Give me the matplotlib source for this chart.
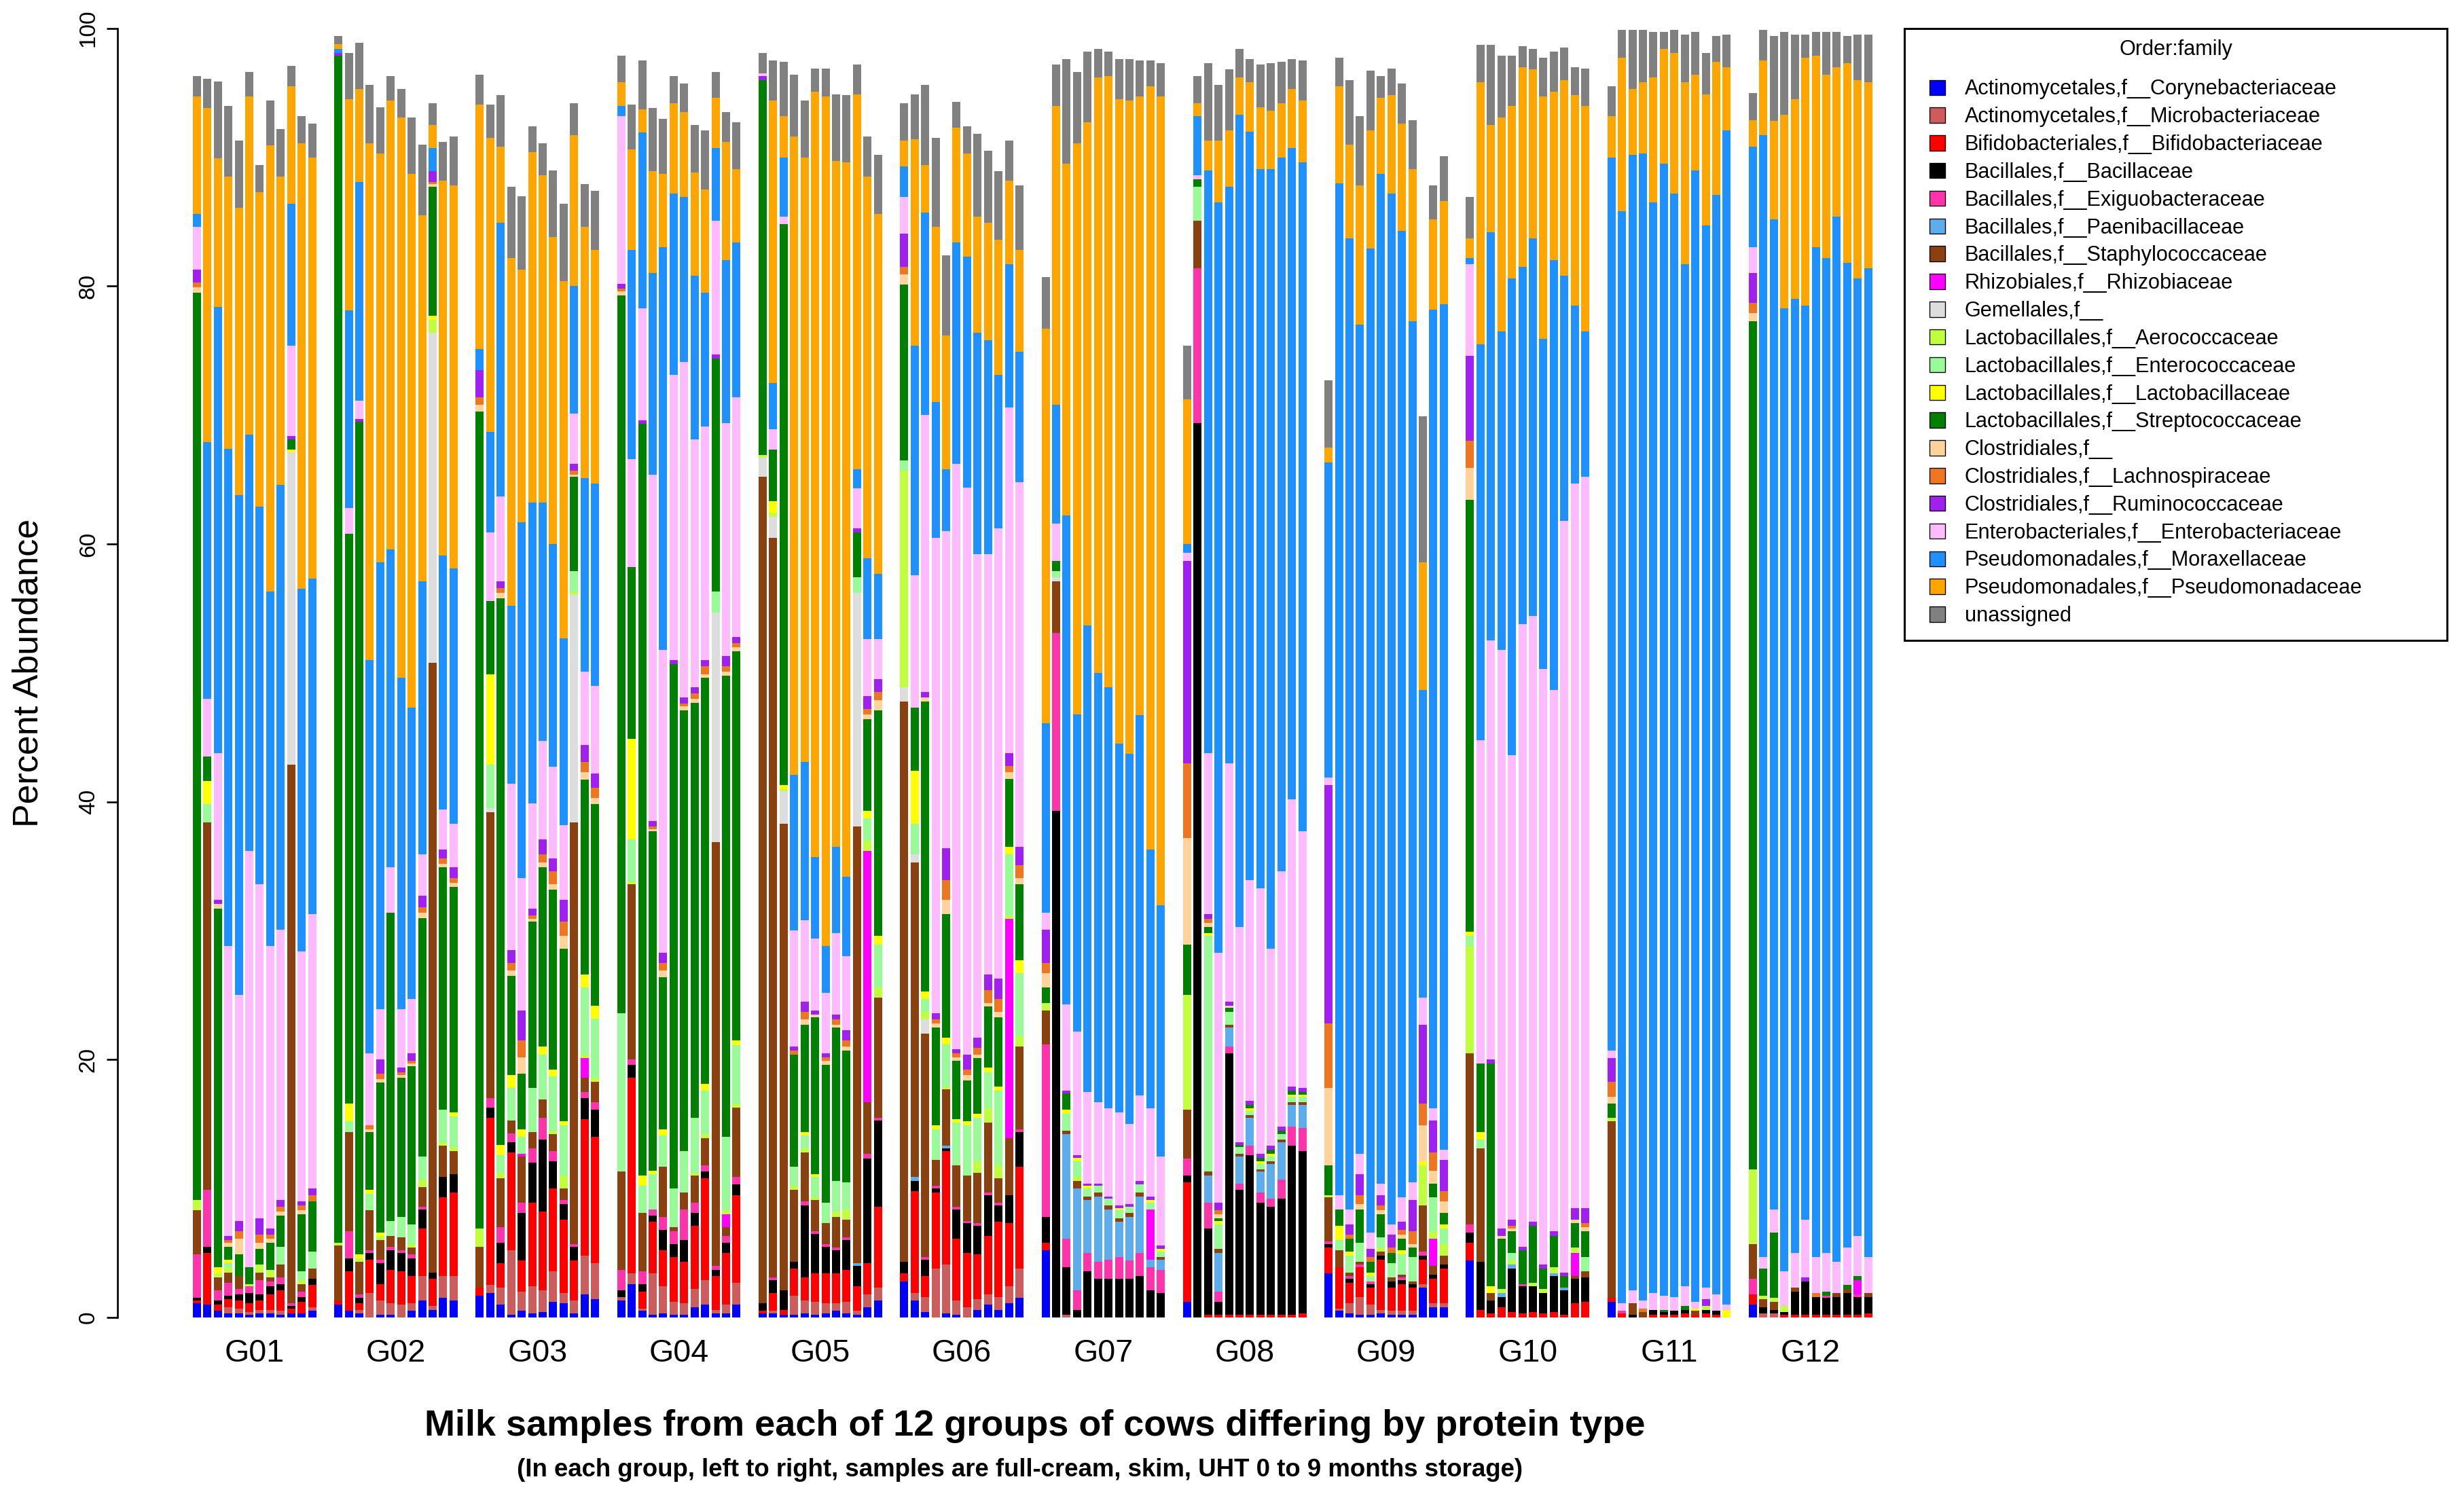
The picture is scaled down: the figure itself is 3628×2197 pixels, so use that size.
import numpy as np
import matplotlib
matplotlib.use("Agg")
import matplotlib.pyplot as plt
from matplotlib.patches import Patch, Rectangle

plt.rcParams["font.family"] = ["Liberation Sans", "DejaVu Sans"]

# Group names (12 samples per group)
groups = ["G01", "G02", "G03", "G04", "G05", "G06",
          "G07", "G08", "G09", "G10", "G11", "G12"]

# Legend entries, bottom of the stack first
orders = [
    "Actinomycetales,f__Corynebacteriaceae",
    "Actinomycetales,f__Microbacteriaceae",
    "Bifidobacteriales,f__Bifidobacteriaceae",
    "Bacillales,f__Bacillaceae",
    "Bacillales,f__Exiguobacteraceae",
    "Bacillales,f__Paenibacillaceae",
    "Bacillales,f__Staphylococcaceae",
    "Rhizobiales,f__Rhizobiaceae",
    "Gemellales,f__",
    "Lactobacillales,f__Aerococcaceae",
    "Lactobacillales,f__Enterococcaceae",
    "Lactobacillales,f__Lactobacillaceae",
    "Lactobacillales,f__Streptococcaceae",
    "Clostridiales,f__",
    "Clostridiales,f__Lachnospiraceae",
    "Clostridiales,f__Ruminococcaceae",
    "Enterobacteriales,f__Enterobacteriaceae",
    "Pseudomonadales,f__Moraxellaceae",
    "Pseudomonadales,f__Pseudomonadaceae",
    "unassigned",
]

colours = ["#0000FF", "#CD5C5C", "#FF0000", "#000000", "#FF33AA",
           "#5DADEC", "#8B4010", "#FF00FF", "#DDDDDD", "#C0FF3E",
           "#98FB98", "#FFFF00", "#008000", "#FFD39B", "#EE7621",
           "#A020F0", "#FFBBFF", "#1E90FF", "#FFA500", "#808080"]

# percent abundance, one row per group, one value per sample
coryne = [
    [1.1, 1.0, 0.5, 0.3, 0.3, 0.2, 0.3, 0.3, 0.2, 0.3, 0.3, 0.5],
    [1.0, 0.5, 0.3, 0, 0.2, 0.2, 0, 0.5, 1.3, 0.6, 1.5, 1.3],
    [1.7, 1.9, 1.0, 0.2, 0.5, 0.3, 0.4, 1.2, 1.1, 0.3, 1.8, 1.4],
    [1.3, 2.6, 0.5, 0.2, 0.3, 0.2, 0.2, 0.8, 1.0, 0.3, 0.3, 1.0],
    [0.3, 0.3, 0.2, 0.2, 0.3, 0.2, 0.3, 0.5, 0.3, 0.2, 0.8, 1.3],
    [2.8, 1.3, 0.4, 0, 0.3, 0.2, 0, 0.6, 1.0, 0.6, 1.1, 1.5],
    [5.2, 0, 0, 0, 0, 0, 0, 0, 0, 0, 0, 0],
    [1.2, 0, 0, 0, 0, 0, 0, 0, 0, 0, 0, 0],
    [3.4, 0.5, 0.3, 0.2, 0.2, 0.3, 0.2, 0.2, 0.2, 2.3, 0.8, 0.8],
    [4.4, 0, 0, 0, 0, 0, 0, 0, 0, 0, 0, 0],
    [1.2, 0, 0, 0, 0, 0, 0, 0, 0, 0, 0, 0],
    [1.0, 0, 0, 0, 0, 0, 0, 0, 0, 0, 0, 0],
]
microb = [
    [0, 0, 0, 0.5, 0.4, 0.2, 0.3, 0.3, 0.3, 0, 0, 0.3],
    [0, 0, 0.3, 1.9, 1.1, 0.9, 1.0, 0.6, 1.9, 0.3, 1.7, 1.9],
    [0, 0.6, 1.3, 5.0, 1.5, 2.1, 1.7, 2.4, 0.8, 1.0, 3.0, 2.8],
    [0.3, 0.8, 0.2, 3.2, 2.1, 1.0, 0.9, 1.4, 1.9, 0.3, 0.7, 1.7],
    [0, 0.2, 0, 1.5, 1.0, 1.0, 0.8, 0.6, 0.9, 0.3, 1.0, 1.0],
    [0, 0.6, 1.2, 3.8, 3.8, 1.1, 0.8, 0.8, 0.8, 1.0, 1.3, 2.3],
    [0, 0, 0.2, 0, 0, 0, 0, 0, 0, 0, 0, 0],
    [0, 0, 0, 0, 0, 0, 0, 0, 0, 0, 0, 0],
    [0, 0.2, 0.8, 1.4, 0.8, 0.3, 0.3, 0.3, 0.3, 0.3, 0.3, 0.3],
    [0, 0, 0, 0, 0, 0, 0, 0, 0, 0, 0, 0],
    [0, 0, 0, 0, 0, 0, 0, 0, 0, 0, 0, 0],
    [0, 0.3, 0.3, 0, 0, 0, 0, 0, 0, 0, 0, 0],
]
bifido = [
    [0.2, 4.0, 0.5, 0.6, 0.6, 0.7, 0.7, 1.2, 1.6, 0.4, 0.9, 1.7],
    [0.3, 3.1, 0.5, 2.6, 1.3, 2.6, 2.6, 2.1, 3.7, 2.1, 6.1, 6.5],
    [0.6, 13.0, 1.9, 7.6, 2.4, 6.5, 6.1, 6.4, 5.7, 3.1, 10.6, 9.8],
    [0, 15.2, 1.3, 4.0, 2.8, 3.5, 3.2, 4.9, 7.9, 2.6, 4.0, 6.8],
    [0.2, 1.4, 0.4, 2.1, 1.8, 2.2, 2.3, 2.3, 2.5, 1.9, 2.4, 6.3],
    [0.6, 7.9, 1.6, 5.9, 8.8, 4.8, 4.2, 3.5, 4.5, 5.8, 4.9, 7.9],
    [0.6, 0, 0, 0, 0, 0, 0, 0, 0, 0, 0, 0],
    [9.3, 0, 0.2, 0.2, 0.2, 0.2, 0.2, 0.2, 0.2, 0.2, 0.2, 0.3],
    [2.0, 3.2, 1.6, 2.3, 1.3, 3.9, 1.8, 2.1, 1.8, 1.9, 1.9, 2.7],
    [1.4, 0.6, 0.3, 0.8, 0.4, 0.3, 0.4, 0.3, 0.4, 0.2, 1.1, 1.2],
    [0.3, 0.3, 0, 0, 0.2, 0.2, 0.2, 0.3, 0.2, 0.3, 0.2, 0],
    [0.8, 0, 0, 0.2, 0.2, 0.2, 0.2, 0.2, 0.2, 0.2, 0.2, 0.3],
]
bacill = [
    [0.2, 0.5, 0.3, 0.3, 0.5, 0.8, 0.5, 0.6, 0.5, 0.2, 0.4, 0.5],
    [0, 1.0, 0.4, 0.5, 1.6, 1.5, 1.4, 1.4, 1.5, 0.5, 1.6, 1.4],
    [0, 0.8, 1.6, 0.8, 3.7, 3.1, 5.6, 2.1, 1.2, 1.1, 1.6, 2.1],
    [0.5, 1.0, 0.6, 0.5, 1.6, 1.0, 1.7, 1.0, 0.5, 0.5, 0.8, 0.8],
    [0.6, 1.0, 1.5, 0.5, 5.6, 3.1, 2.1, 1.8, 2.3, 1.6, 8.1, 6.7],
    [0.9, 0.8, 1.3, 0.3, 0.2, 2.3, 2.3, 2.2, 3.2, 1.3, 2.2, 2.7],
    [2.0, 39.3, 3.7, 0.6, 3.6, 3.0, 3.0, 3.0, 3.0, 3.2, 2.1, 1.9],
    [0.5, 69.4, 6.7, 1.0, 20.3, 9.7, 12.4, 8.7, 8.4, 9.0, 13.1, 12.6],
    [0.3, 0, 0.3, 0, 0.3, 0.3, 0.5, 0.3, 0.3, 0.3, 0.3, 0.3],
    [0.8, 3.7, 1.0, 0.8, 3.4, 2.1, 2.0, 1.6, 2.8, 1.9, 1.9, 1.9],
    [0, 0, 0.2, 0, 0.4, 0.2, 0.3, 0.3, 0, 0.3, 0.3, 0],
    [0, 0.5, 0.3, 0.2, 1.8, 2.6, 1.4, 1.3, 1.4, 1.7, 1.4, 1.3],
]
exiguo = [
    [3.4, 4.4, 0.8, 1.0, 0.4, 0.5, 1.1, 0.4, 0.5, 0.2, 0.4, 0],
    [0, 2.1, 0.3, 0.2, 0.3, 0.3, 0.2, 0.3, 0.2, 0, 0, 0],
    [0, 0.7, 1.2, 0.7, 0.8, 1.1, 1.7, 0.8, 0.3, 0.2, 0.5, 0.6],
    [1.6, 0.4, 1.0, 0.5, 1.0, 1.0, 2.4, 0.8, 0.5, 0.3, 0.5, 0.6],
    [0, 0.2, 0, 0, 0.3, 0.2, 0.2, 0.2, 0.2, 0, 0.4, 0.2],
    [0, 0, 0.2, 0.2, 0, 0.2, 0.2, 0.2, 0.2, 0.2, 0, 0.2],
    [13.4, 13.8, 2.2, 1.5, 1.4, 1.3, 1.5, 1.7, 1.4, 1.8, 1.8, 1.8],
    [1.3, 12.0, 2.0, 0.8, 0.5, 0.5, 0.7, 0.8, 0.6, 1.5, 1.5, 1.8],
    [0.2, 0, 0.2, 0.2, 0.2, 0, 0, 0.2, 0, 0.3, 0, 0],
    [0.6, 0, 0, 0, 0, 0.2, 0, 0, 0, 0, 0, 0],
    [0, 0.2, 0, 0, 0, 0, 0, 0, 0, 0, 0, 0],
    [1.2, 0, 0, 0, 0, 0, 0, 0.2, 0, 0, 0.2, 0],
]
paeni = [
    [0] * 12,
    [0] * 12,
    [0] * 12,
    [0] * 12,
    [0, 0, 0, 0, 0, 0, 0, 0, 0, 0.2, 0, 0],
    [0, 0.3, 0, 0, 0.2, 0, 0, 0, 0, 0, 0, 0],
    [0, 0, 8.1, 7.9, 4.1, 5.1, 3.9, 2.7, 3.4, 4.4, 0.6, 0.8],
    [0, 0, 2.1, 3.0, 1.5, 2.1, 2.2, 1.6, 2.7, 2.9, 1.7, 1.8],
    [0] * 12,
    [0, 0, 0, 0.3, 0.3, 0, 0, 0, 0.2, 0.2, 0, 0],
    [0] * 12,
    [0] * 12,
]
staph = [
    [3.4, 28.5, 1.0, 0.8, 1.0, 0, 0.6, 0.3, 1.0, 41.8, 0.6, 0.8],
    [4.3, 7.7, 2.5, 3.1, 1.5, 0.8, 1.0, 0.5, 1.5, 47.3, 2.4, 1.8],
    [3.2, 22.2, 3.8, 1.0, 3.6, 1.3, 1.4, 1.3, 0.9, 32.7, 1.1, 1.6],
    [7.6, 13.6, 4.5, 0, 3.9, 0.3, 1.3, 2.1, 2.1, 32.9, 0.7, 5.4],
    [64.1, 57.4, 36.2, 5.6, 3.8, 2.4, 1.6, 2.4, 1.4, 33.9, 4.0, 9.3],
    [43.5, 24.4, 17.3, 2.0, 4.4, 3.2, 3.5, 3.9, 5.4, 1.9, 4.4, 6.4],
    [2.6, 4.0, 0.3, 0.6, 0.3, 0.3, 0.3, 0.3, 0.3, 0.3, 0, 0.2],
    [3.8, 3.7, 0.3, 0.3, 0.2, 0.2, 0.2, 0.2, 0.2, 0.2, 0.2, 0.2],
    [3.4, 1.3, 0.3, 0.2, 0, 0.3, 0.3, 0.2, 0.2, 3.6, 0.7, 0.7],
    [13.3, 8.8, 0.6, 0, 0, 0, 0, 0, 0, 0, 0.2, 0.5],
    [13.7, 0, 0.9, 0.4, 0, 0, 0, 0, 0.3, 0, 0, 0],
    [2.7, 0.6, 0.6, 0, 0.3, 0, 0, 0, 0.3, 0.3, 0, 0.3],
]
rhizo = [
    [0] * 12,
    [0] * 12,
    [0, 0, 0, 0, 0.2, 0, 0, 0, 0, 0, 1.5, 0],
    [0, 0, 0, 0, 0, 0, 0, 0, 0, 0, 1.0, 0],
    [0, 0, 0, 0, 0, 0, 0, 0, 0, 0, 19.5, 0],
    [0, 0, 0, 0, 0, 0, 0, 0, 0, 0, 17.0, 0],
    [0, 0, 0, 0, 0, 0, 0, 0, 0, 0, 3.9, 0],
    [0] * 12,
    [0, 0, 0, 0, 0, 0, 0, 0, 0, 0, 2.1, 0],
    [0, 0, 0, 0, 0, 0, 0, 0, 0, 0, 1.8, 0],
    [0] * 12,
    [0, 0, 0, 0, 0, 0, 0, 0, 0, 0, 1.1, 0],
]
gemell = [
    [0, 0, 0, 0, 0, 0, 0, 0, 0, 24.2, 0, 0],
    [0, 0, 0, 0, 0, 0, 0, 0, 0, 25.6, 0, 0],
    [0, 0.3, 0, 0, 0, 0, 0, 0, 0, 17.7, 0, 0],
    [0, 0, 0, 0, 0, 0, 0, 0, 0, 17.8, 0, 0],
    [1.5, 1.6, 2.5, 0, 0, 0, 0, 0, 0, 18.1, 0, 0],
    [1.1, 0.6, 1.1, 0, 0, 0, 0, 0, 0, 0, 0, 0],
    [0, 0.3, 0, 0, 0, 0, 0, 0, 0, 0, 0, 0],
    [0] * 12,
    [0] * 12,
    [0] * 12,
    [0] * 12,
    [0] * 12,
]
aeroc = [
    [0.8, 0, 0.3, 0.4, 0, 0.2, 0.6, 0.6, 0, 0, 0.3, 0],
    [0.2, 0, 0.3, 0, 0.3, 0, 0, 0.3, 0.6, 1.0, 0.3, 0.3],
    [1.4, 0, 0.4, 0, 0, 0, 0, 0.3, 1.0, 0.2, 0.3, 0.3],
    [0, 0.2, 0, 0, 0, 0, 0, 0.2, 0.3, 0, 0.3, 0.3],
    [0.2, 0.3, 0.2, 0.3, 0.3, 0.2, 0, 0.4, 0.8, 0, 0.8, 0.8],
    [16.8, 0, 0.6, 0, 0.2, 0, 0, 0.9, 1.1, 1.0, 0.3, 0.8],
    [0.6, 0, 0, 0.3, 0, 0, 0, 0, 0, 0, 0, 0],
    [8.9, 0, 0, 0, 0, 0, 0, 0, 0, 0, 0, 0],
    [0.2, 0, 0, 0, 0, 0.3, 0, 0, 0, 3.1, 0.6, 0.9],
    [8.3, 0, 0, 0.3, 0.3, 0, 0.3, 0.3, 0.5, 0, 0.4, 0],
    [0.3, 0, 0, 0, 0, 0, 0, 0, 0, 0.3, 0, 0],
    [5.8, 0.3, 0.3, 0.5, 0, 0, 0, 0, 0, 0, 0, 0],
]
enteroc = [
    [0, 1.4, 0, 0.3, 0, 0, 0, 0, 1.4, 0, 0.7, 1.3],
    [0, 0.8, 0, 1.3, 0, 1.2, 1.6, 1.5, 1.8, 0, 2.5, 2.4],
    [0, 3.4, 1.4, 2.5, 1.3, 3.4, 3.5, 4.2, 3.9, 1.6, 5.2, 4.6],
    [12.3, 3.3, 2.1, 2.7, 2.4, 3.0, 3.2, 4.3, 3.4, 1.6, 5.7, 4.5],
    [0, 0, 0, 1.5, 1.0, 1.6, 1.6, 2.4, 2.1, 1.2, 1.7, 3.3],
    [0.8, 2.4, 1.0, 2.4, 3.3, 3.3, 3.9, 3.4, 2.8, 5.8, 4.7, 4.9],
    [0, 0.5, 1.3, 1.2, 0.6, 0.5, 0.5, 0.6, 0.5, 0.6, 0.5, 0.4],
    [0, 2.6, 18.3, 1.9, 1.0, 0.5, 0.3, 0.4, 0.4, 0.4, 0.4, 0.4],
    [0, 0.8, 1.3, 1.5, 0.4, 0.8, 1.1, 1.6, 1.9, 0, 2.6, 1.2],
    [0.8, 0.7, 0, 0, 0.6, 0, 0, 0, 0, 0, 0, 1.1],
    [0] * 12,
    [0] * 12,
]
lactob = [
    [0, 1.8, 0.5, 0.3, 0, 0, 0, 0, 0, 0.2, 0, 0],
    [0, 1.4, 0.3, 0.3, 0.3, 0, 0, 0, 0, 0.3, 0, 0.3],
    [0, 7.0, 0.8, 1.0, 0.6, 0, 0.6, 0.5, 0.3, 0, 1.0, 1.0],
    [0, 7.8, 0.8, 0.3, 0.5, 0, 0, 0, 0.5, 0, 0, 0.4],
    [0, 0.9, 0.3, 0, 0.3, 0.2, 0, 0, 0, 0, 0.6, 0.7],
    [0, 4.1, 0.6, 0.3, 0.5, 0.3, 0.3, 0.3, 0.4, 0.3, 0.6, 1.0],
    [0, 0, 0.3, 0.3, 0.2, 0, 0, 0.2, 0, 0, 0.2, 0.2],
    [0, 0, 0.2, 0.3, 0, 0, 0.2, 0.2, 0.2, 0, 0.2, 0.2],
    [0, 1.1, 0.3, 0, 0.3, 0, 0, 0.3, 0, 0.3, 0, 0.3],
    [0.3, 0.6, 0.5, 0, 0, 0, 0, 0, 0, 0, 0, 0],
    [0, 0, 0, 0, 0, 0, 0, 0, 0.2, 0, 0, 0.6],
    [0] * 12,
]
strep = [
    [70.4, 1.9, 27.8, 1.0, 1.7, 1.3, 1.2, 2.1, 2.4, 0.8, 4.4, 3.9],
    [92.1, 44.2, 64.6, 4.5, 11.6, 23.9, 10.8, 12.3, 18.5, 10.0, 18.8, 17.5],
    [63.4, 5.7, 42.4, 7.7, 4.3, 12.9, 13.9, 14.0, 13.4, 7.3, 15.1, 15.6],
    [55.7, 13.3, 58.3, 26.3, 11.8, 40.7, 34.2, 32.2, 31.5, 18.1, 35.8, 30.2],
    [29.1, 4.0, 43.5, 8.7, 8.3, 12.2, 10.7, 11.9, 10.2, 3.5, 7.1, 17.5],
    [13.6, 4.9, 22.5, 7.6, 9.6, 4.5, 3.2, 4.3, 4.7, 5.4, 5.3, 5.9],
    [1.2, 0.8, 1.3, 0, 0, 0, 0, 0, 0, 0, 0, 0],
    [3.9, 0.6, 0.5, 0.2, 0.3, 0.2, 0.3, 0.3, 0.3, 0.3, 0.3, 0.2],
    [2.3, 1.3, 1.0, 2.6, 0.8, 1.8, 0.8, 0.9, 0.7, 0, 1.1, 0.9],
    [33.5, 5.3, 17.3, 3.9, 1.7, 2.6, 4.4, 1.6, 2.4, 0.9, 1.9, 2.0],
    [1.1, 0, 0, 0, 0, 0.2, 0, 0.3, 0, 0, 0, 0],
    [65.8, 2.1, 5.1, 0, 0, 0, 0, 0.3, 0, 0.3, 0.3, 0],
]
clostr = [
    [0.4, 0, 0.4, 0.3, 1.2, 0, 0.5, 0.3, 0.3, 0, 0.3, 0],
    [0, 0, 0, 0.2, 0.3, 0, 0.2, 0.2, 0.4, 0.2, 0.3, 0.3],
    [0.5, 0, 0.4, 0.4, 1.3, 0.2, 0.4, 0.4, 1.0, 0.2, 0.6, 0.5],
    [0.3, 0, 0, 0.2, 0.5, 0, 0.3, 0.3, 0.3, 0, 0.3, 0.3],
    [0, 0, 0, 0, 0.4, 0.2, 0.3, 0.2, 0.3, 0, 0.4, 0.8],
    [0.8, 0, 0.3, 0.3, 1.1, 0.3, 0.4, 0.3, 0.3, 0.4, 0.5, 0.5],
    [1.1, 0, 0, 0, 0, 0, 0, 0, 0, 0, 0, 0],
    [8.3, 0, 0.3, 0.3, 0.2, 0, 0, 0, 0, 0, 0, 0],
    [6.0, 0, 0, 0.4, 0, 0.3, 0, 0.3, 0.3, 2.8, 1.0, 0.9],
    [2.5, 0, 0, 0.2, 0.2, 0, 0, 0, 0, 0, 0.3, 0.3],
    [0.5, 0, 0, 0, 0, 0, 0, 0, 0, 0, 0, 0],
    [0.6, 0, 0, 0, 0, 0, 0, 0, 0, 0, 0, 0],
]
lachno = [
    [0.4, 0, 0, 0.2, 0.6, 0, 0.6, 0.3, 0.4, 0, 0.4, 0.5],
    [0, 0, 0, 0.3, 0.4, 0, 0.2, 0.2, 0.4, 0.2, 0.4, 0.4],
    [0.6, 0, 0.4, 0.6, 1.3, 0.3, 0.6, 1.0, 1.1, 0.3, 0.8, 0.8],
    [0.2, 0, 0, 0.2, 0.6, 0, 0.2, 0.4, 0.6, 0, 0.4, 0.3],
    [0, 0, 0, 0.3, 0.6, 0, 0.3, 0.4, 0.5, 0, 0.4, 0.6],
    [0.6, 0, 0, 0.3, 1.5, 0.3, 0.4, 0.5, 1.0, 1.0, 0.5, 1.0],
    [0.8, 0, 0, 0, 0, 0, 0, 0, 0, 0, 0, 0],
    [5.8, 0, 0.3, 0.3, 0, 0, 0, 0, 0, 0, 0, 0],
    [5.0, 0, 0.3, 0.7, 0.4, 0.4, 0.4, 0.4, 1.0, 1.7, 1.4, 0.8],
    [2.1, 0, 0, 0, 0.2, 0, 0, 0, 0, 0, 0, 0.3],
    [1.2, 0, 0, 0.3, 0, 0, 0, 0, 0, 0, 0, 0],
    [0.8, 0, 0, 0, 0, 0, 0.3, 0, 0, 0, 0, 0],
]
rumino = [
    [1.0, 0, 0.3, 0.3, 0.8, 0, 1.3, 0.5, 0.5, 0.3, 0.3, 0.5],
    [0.2, 0, 0.2, 0, 1.1, 0, 0.4, 0.6, 0.9, 0.8, 0.7, 0.8],
    [2.1, 0, 0.5, 1.0, 2.3, 0.5, 1.2, 1.0, 1.7, 0.5, 1.3, 1.1],
    [0.4, 0, 0.3, 0.4, 0.8, 0.3, 0.5, 0.5, 0.5, 0.3, 0.8, 0.5],
    [0.3, 0, 0, 0.3, 0.8, 0.3, 0.3, 0.4, 0.8, 0.3, 1.0, 1.0],
    [2.6, 0, 0.4, 0.5, 2.5, 0.3, 1.2, 0.8, 1.2, 1.6, 1.0, 1.4],
    [2.6, 0, 0.2, 0.2, 0.2, 0.2, 0.2, 0.2, 0.2, 0.3, 0.3, 0.3],
    [15.7, 0, 0.4, 0.6, 0.3, 0.2, 0.3, 0.3, 0.3, 0.3, 0.3, 0.3],
    [18.5, 0, 0.8, 1.6, 0.6, 0.8, 1.0, 0.6, 2.4, 6.1, 2.5, 2.4],
    [6.6, 0, 0.3, 0.6, 0.5, 0.3, 0.3, 0.3, 0.4, 0.3, 0.9, 1.2],
    [1.8, 0, 0, 0, 0, 0, 0, 0, 0, 0.5, 0, 0],
    [2.3, 0, 0, 0, 0, 0.3, 0, 0, 0, 0, 0, 0],
]
enterob = [
    [3.3, 4.5, 11.4, 22.5, 17.5, 32.3, 25.9, 21.9, 21.0, 7.0, 19.4, 21.3],
    [0, 2.0, 1.4, 5.6, 3.9, 3.5, 4.5, 4.2, 3.2, 0, 3.1, 3.4],
    [0, 5.3, 6.6, 12.9, 10.3, 8.2, 7.6, 7.1, 5.8, 3.9, 5.7, 6.8],
    [13.0, 8.4, 8.7, 26.9, 23.5, 22.1, 26.0, 19.2, 18.1, 10.4, 18.1, 18.6],
    [0.2, 1.6, 0.6, 9.0, 6.3, 5.6, 4.7, 6.3, 5.7, 3.1, 4.4, 3.1],
    [2.8, 10.3, 21.5, 36.9, 24.6, 45.4, 44.0, 37.5, 32.6, 34.9, 26.8, 28.3],
    [1.3, 2.9, 6.7, 9.6, 7.1, 6.3, 6.8, 7.2, 6.2, 6.6, 6.8, 6.9],
    [0.6, 0.3, 12.5, 19.4, 18.5, 16.7, 17.1, 20.6, 15.3, 19.8, 22.3, 19.9],
    [0.6, 1.1, 1.2, 1.6, 1.3, 0.9, 0.8, 1.9, 1.4, 2.1, 0.9, 0.8],
    [7.1, 25.1, 32.5, 44.9, 36.0, 48.3, 47.0, 46.2, 42.0, 58.3, 56.2, 56.7],
    [0.6, 0.6, 1.0, 0.6, 1.3, 1.1, 1.1, 1.5, 0.5, 0.9, 1.3, 0.4],
    [2.0, 0.9, 1.8, 2.7, 2.7, 4.5, 2.8, 3.0, 2.4, 2.9, 3.1, 2.8],
]
moraxel = [
    [1.0, 19.9, 34.6, 38.6, 38.8, 32.3, 29.3, 27.5, 34.5, 11.0, 28.1, 26.0],
    [0.3, 15.3, 17.0, 30.5, 34.7, 24.7, 25.7, 22.6, 21.2, 1.8, 19.7, 19.8],
    [1.6, 7.8, 21.2, 13.8, 27.6, 23.3, 18.5, 17.3, 14.5, 9.9, 15.0, 15.7],
    [0.8, 16.2, 13.6, 15.6, 31.2, 14.1, 12.8, 12.7, 10.4, 5.6, 12.6, 12.0],
    [0, 3.6, 4.6, 12.1, 12.3, 6.3, 3.6, 6.7, 6.2, 1.5, 6.3, 5.1],
    [2.4, 17.8, 15.7, 10.5, 4.8, 17.2, 17.9, 17.2, 16.6, 11.9, 11.1, 10.1],
    [14.7, 9.2, 37.9, 24.6, 36.2, 33.3, 32.7, 28.6, 28.7, 29.5, 20.1, 19.5],
    [0.7, 4.6, 45.2, 58.2, 44.7, 63.0, 58.1, 55.8, 60.5, 55.4, 50.5, 51.9],
    [24.4, 78.5, 75.3, 64.3, 76.3, 78.3, 80.0, 75.0, 66.8, 23.9, 62.0, 65.6],
    [0.5, 30.7, 31.7, 24.7, 37.0, 27.7, 29.3, 25.6, 33.3, 19.0, 13.8, 11.3],
    [69.3, 84.7, 88.1, 89.0, 84.6, 87.8, 85.6, 79.3, 87.8, 82.4, 85.3, 91.1],
    [7.8, 87.0, 76.8, 74.7, 74.0, 70.9, 78.3, 77.2, 81.1, 76.4, 74.3, 76.7],
]
pseudom = [
    [9.1, 25.9, 11.5, 21.1, 22.3, 26.2, 24.4, 34.6, 23.9, 9.1, 34.6, 32.7],
    [0.4, 16.4, 7.2, 40.1, 31.7, 34.8, 43.5, 41.4, 28.4, 1.8, 29.1, 29.7],
    [19.0, 22.8, 5.9, 27.0, 19.6, 27.2, 25.4, 23.8, 27.7, 11.7, 19.5, 18.1],
    [1.8, 7.8, 1.8, 7.9, 5.7, 7.0, 6.6, 8.0, 8.0, 3.9, 9.2, 5.7],
    [0, 21.9, 3.2, 49.5, 46.9, 59.4, 65.9, 53.2, 55.4, 29.1, 29.6, 27.9],
    [2.0, 16.0, 3.7, 13.6, 10.4, 8.9, 8.0, 9.0, 9.1, 10.5, 6.5, 7.9],
    [30.6, 23.2, 27.3, 44.3, 39.0, 46.2, 47.4, 50.0, 50.7, 48.0, 59.2, 62.7],
    [11.2, 1.0, 2.3, 4.8, 4.4, 2.9, 3.8, 4.8, 4.5, 4.2, 4.6, 4.8],
    [1.2, 7.5, 7.3, 10.8, 9.2, 5.9, 7.6, 8.3, 11.8, 9.9, 7.0, 8.0],
    [1.5, 20.3, 8.3, 16.6, 13.4, 15.5, 13.1, 18.8, 13.1, 15.2, 16.3, 17.5],
    [3.2, 11.9, 5.1, 5.5, 9.7, 8.9, 10.9, 14.1, 7.4, 10.2, 10.3, 4.9],
    [2.1, 5.8, 7.6, 15.0, 15.5, 19.2, 14.9, 14.2, 11.6, 15.5, 15.4, 14.4],
]
unassigned = [
    [1.6, 2.3, 6.0, 5.5, 5.2, 1.9, 2.1, 3.5, 3.7, 1.6, 2.1, 2.6],
    [0.6, 3.6, 3.6, 4.5, 3.6, 1.9, 2.2, 4.4, 5.5, 1.7, 3.0, 3.8],
    [2.3, 2.6, 4.0, 5.5, 5.7, 2.0, 2.5, 5.2, 6.0, 2.5, 3.3, 4.6],
    [2.1, 3.5, 3.8, 4.9, 4.3, 2.1, 2.2, 3.7, 4.6, 2.0, 2.3, 3.6],
    [1.6, 3.1, 4.2, 4.8, 4.4, 1.8, 2.2, 5.2, 5.2, 2.3, 3.1, 4.6],
    [2.9, 3.5, 6.2, 6.9, 6.2, 2.0, 2.1, 6.4, 5.6, 5.3, 3.1, 5.0],
    [4.0, 3.2, 8.1, 5.5, 5.5, 2.2, 1.9, 3.1, 3.2, 2.8, 2.0, 2.6],
    [4.2, 2.1, 6.0, 4.3, 4.7, 2.2, 1.8, 3.3, 3.7, 3.2, 2.3, 3.1],
    [5.2, 2.2, 5.0, 5.4, 4.6, 1.7, 2.1, 3.1, 3.8, 11.3, 2.6, 3.5],
    [3.2, 2.9, 6.2, 4.8, 3.9, 1.6, 1.6, 3.0, 3.1, 2.5, 2.2, 2.9],
    [2.3, 2.2, 4.6, 4.1, 3.5, 1.3, 1.8, 3.7, 3.3, 3.2, 2.0, 2.5],
    [2.1, 2.4, 6.6, 6.4, 5.0, 1.8, 1.8, 3.3, 2.7, 2.1, 3.5, 3.7],
]

series = [coryne, microb, bifido, bacill, exiguo, paeni, staph, rhizo,
          gemell, aeroc, enteroc, lactob, strep, clostr, lachno, rumino,
          enterob, moraxel, pseudom, unassigned]

# bar positions: 12 samples per group, a wider gap between groups
group_step = 13.5
xpos = np.array([g * group_step + i for g in range(len(groups)) for i in range(12)])

fig = plt.figure(figsize=(3628 / 240, 2197 / 240), dpi=240)
ax = fig.add_axes([0.0478, 0.117, 0.765 - 0.0478, 0.981 - 0.117])

bottom = np.zeros(len(xpos))
for colour, vals in zip(colours, series):
    v = np.ravel(vals)
    ax.bar(xpos, v, width=0.78, bottom=bottom, color=colour, linewidth=0)
    bottom += v

ax.set_xlim(-7.55, 161.1)
ax.set_ylim(0, 100)
for side in ["top", "right", "bottom"]:
    ax.spines[side].set_visible(False)
ax.spines["left"].set_linewidth(0.8)

ax.set_xticks([])
ax.set_yticks([0, 20, 40, 60, 80, 100])
ax.set_yticklabels(["0", "20", "40", "60", "80", "100"], rotation=90,
                   va="center", fontsize=10)
ax.tick_params(axis="y", length=4.8, width=0.8, pad=3.5)

# group labels under each block of bars
for g, name in enumerate(groups):
    ax.text(g * group_step + 5.5, -0.028, name, transform=ax.get_xaxis_transform(),
            ha="center", va="center", fontsize=14)

fig.text(0.0115, 0.549, "Percent Abundance", rotation=90,
         ha="center", va="center", fontsize=15.6)
fig.text(0.420, 0.044,
         "Milk samples from each of 12 groups of cows differing by protein type",
         ha="center", va="center", fontsize=16.2, fontweight="bold")
fig.text(0.414, 0.015,
         "(In each group, left to right, samples are full-cream, skim, UHT 0 to 9 months storage)",
         ha="center", va="center", fontsize=11, fontweight="bold")

# legend: frame and title drawn by hand, entries placed inside
fig.patches.append(Rectangle((0.773, 0.571), 0.993 - 0.773, 0.981 - 0.571,
                             transform=fig.transFigure, facecolor="white",
                             edgecolor="black", linewidth=0.9, zorder=2))
fig.text(0.883, 0.967, "Order:family", ha="center", va="center",
         fontsize=9.2, zorder=3)
handles = [Patch(facecolor=c, edgecolor="black", linewidth=0.4) for c in colours]
leg = fig.legend(handles, orders, loc="upper left", bbox_to_anchor=(0.783, 0.947),
                 fontsize=9.2, frameon=False,
                 handlelength=0.75, handleheight=0.75, handletextpad=0.95,
                 labelspacing=0.353, borderpad=0, borderaxespad=0)
leg.set_zorder(3)

fig.savefig("out.png", dpi=240)
